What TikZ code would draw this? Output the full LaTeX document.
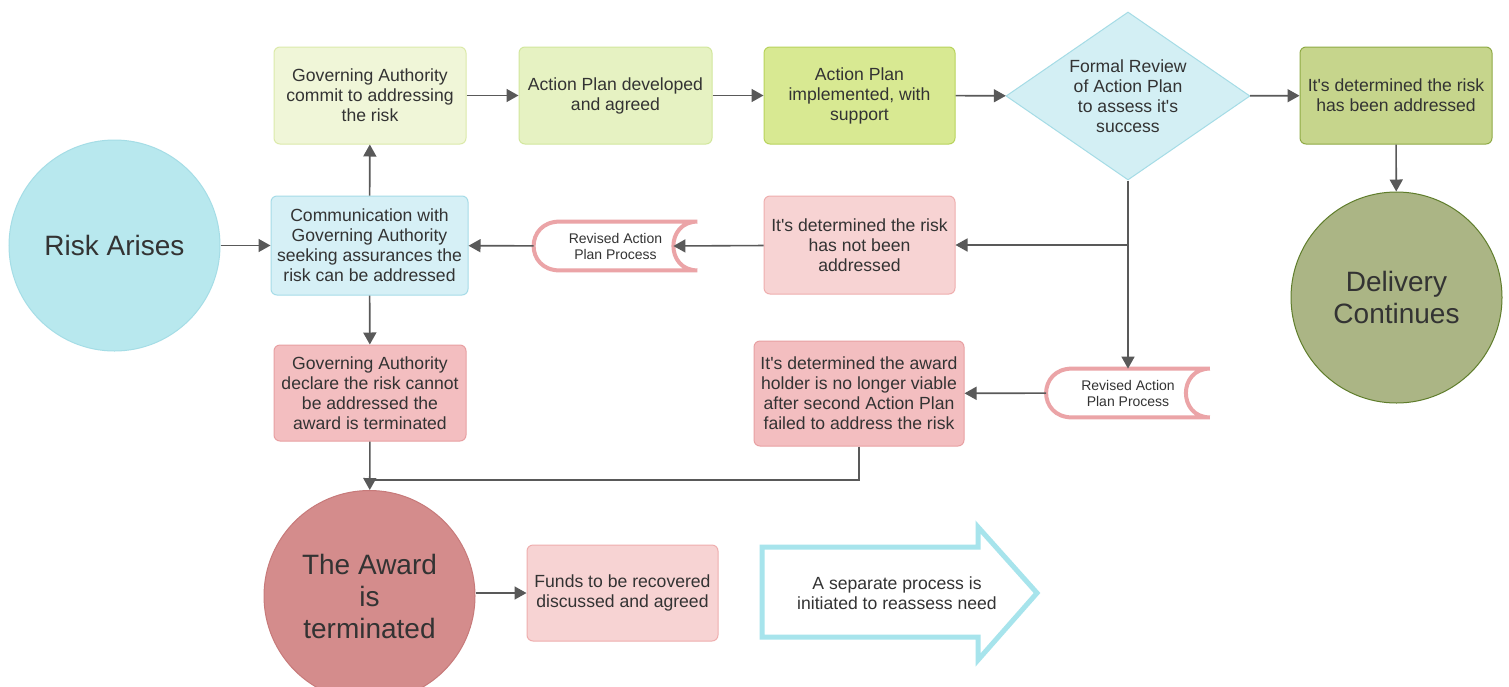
\documentclass[tikz,border=0pt]{standalone}
\usepackage{fontspec}
\setmainfont{Liberation Sans}[Ligatures=TeXOff]
\usetikzlibrary{shapes.geometric, arrows.meta}

\definecolor{txt}{HTML}{333333}
\definecolor{conn}{HTML}{595959}
\definecolor{riskfill}{HTML}{B8E8EE}
\definecolor{riskline}{HTML}{A5DDE6}
\definecolor{commitfill}{HTML}{F0F6D8}
\definecolor{commitline}{HTML}{DCEAAA}
\definecolor{devfill}{HTML}{E6F2C2}
\definecolor{devline}{HTML}{D2E79D}
\definecolor{implfill}{HTML}{D8E992}
\definecolor{implline}{HTML}{B8D35C}
\definecolor{reviewfill}{HTML}{D3EFF4}
\definecolor{reviewline}{HTML}{A5DCE6}
\definecolor{addrfill}{HTML}{C6D58C}
\definecolor{addrline}{HTML}{8FAA45}
\definecolor{delivfill}{HTML}{ABB585}
\definecolor{delivline}{HTML}{5F7D2B}
\definecolor{commfill}{HTML}{D6F0F6}
\definecolor{commline}{HTML}{A6DCE8}
\definecolor{lightred}{HTML}{F7D3D3}
\definecolor{lightredline}{HTML}{EFAEAE}
\definecolor{midred}{HTML}{F3BEC0}
\definecolor{midredline}{HTML}{E8A0A2}
\definecolor{termfill}{HTML}{D48C8C}
\definecolor{termline}{HTML}{C77A7A}
\definecolor{revcolor}{HTML}{EBA4A7}
\definecolor{arrowline}{HTML}{A7E4EC}

% outline of the "Revised Action Plan Process" shape
\newcommand{\revisedoutline}[1]{%
  \draw[draw=revcolor, line width=2pt] ([xshift=13pt]#1.north west) -- (#1.north east)
    .. controls ([xshift=-16pt]#1.north east) and ([xshift=-16pt]#1.south east) .. (#1.south east)
    -- ([xshift=13pt]#1.south west)
    .. controls ([xshift=-4.33pt]#1.south west) and ([xshift=-4.33pt]#1.north west) .. cycle;}

\begin{document}
\begin{tikzpicture}[x=0.5pt, y=-0.5pt,
    box/.style={rectangle, rounded corners=3pt, draw, line width=0.5pt, align=center, text=txt,
        minimum width=96pt, minimum height=48.5pt, inner sep=1pt, font=\fontsize{8.8}{10}\selectfont},
    bigcircle/.style={circle, draw, line width=0.5pt, align=center, text=txt,
        minimum size=105.5pt, inner sep=0pt, font=\fontsize{14}{16}\selectfont},
    revised/.style={rectangle, minimum width=81.5pt, minimum height=24pt, inner sep=0pt, align=center,
        text=txt, font=\fontsize{7}{8}\selectfont},
    flow/.style={draw=conn, line width=0.8pt, -{Triangle[length=6pt, width=6.5pt]}},
    line/.style={draw=conn, line width=0.8pt}]
    \fill[white] (0,0) rectangle (1509,686);
    \useasboundingbox (0,0) rectangle (1509,686);

    % Start and end points
    \node[bigcircle, fill=riskfill, draw=riskline] (risk) at (114.5,245.5) {Risk Arises};
    \node[bigcircle, fill=delivfill, draw=delivline] (delivery) at (1396.5,297.5) {Delivery\\Continues};
    \node[bigcircle, fill=termfill, draw=termline] (terminated) at (369.5,596) {The Award\\is\\terminated};

    % Top row
    \node[box, fill=commitfill, draw=commitline] (commit) at (370,95.5) {Governing Authority\\commit to addressing\\the risk};
    \node[box, fill=devfill, draw=devline, minimum width=96.5pt] (develop) at (615.5,95.5) {Action Plan developed\\and agreed};
    \node[box, fill=implfill, draw=implline, minimum width=95.5pt] (implement) at (859.5,95.5) {Action Plan\\implemented, with\\support};
    \node[diamond, aspect=1.45, draw=reviewline, fill=reviewfill, line width=0.5pt, minimum width=122pt, minimum height=84pt,
        inner sep=0pt, align=center, text=txt, font=\fontsize{8.8}{10}\selectfont] (review) at (1128,96) {Formal Review\\of Action Plan\\to assess it's\\success};
    \node[box, fill=addrfill, draw=addrline] (addressed) at (1396,95.5) {It's determined the risk\\has been addressed};

    % Middle rows
    \node[box, fill=commfill, draw=commline, minimum width=98.5pt, minimum height=49.5pt] (comm) at (369.5,245.5) {Communication with\\Governing Authority\\seeking assurances the\\risk can be addressed};
    \node[revised] (revone) at (615.5,246) {Revised Action\\Plan Process};
    \node[box, fill=lightred, draw=lightredline, minimum width=95.5pt, minimum height=49pt] (notaddr) at (859.5,245) {It's determined the risk\\has not been\\addressed};
    \node[box, fill=midred, draw=midredline, minimum height=48pt] (declare) at (370,393) {Governing Authority\\declare the risk cannot\\be addressed the\\award is terminated};
    \node[box, fill=midred, draw=midredline, minimum width=105pt, minimum height=52.5pt] (notviable) at (859,393.5) {It's determined the award\\holder is no longer viable\\after second Action Plan\\failed to address the risk};
    \node[revised] (revtwo) at (1128,393) {Revised Action\\Plan Process};
    \revisedoutline{revone}
    \revisedoutline{revtwo}

    % Bottom row
    \node[box, fill=lightred, draw=lightredline, minimum width=95.5pt, minimum height=48pt] (funds) at (622.5,593) {Funds to be recovered\\discussed and agreed};
    \draw[draw=arrowline, line width=2.5pt, line join=miter] (762,547) -- (978,547) -- (978,527) -- (1037,593)
        -- (978,660) -- (978,637) -- (762,637) -- cycle;
    \node[align=center, text=txt, font=\fontsize{8.8}{10}\selectfont] (reassess) at (897,593) {A separate process is\\initiated to reassess need};

    % Connectors
    \coordinate (join) at (370,480);
    \draw[flow] (risk) -- (comm);
    \draw[flow] (comm) -- (commit);
    \draw[flow] (commit) -- (develop);
    \draw[flow] (develop) -- (implement);
    \draw[flow] (implement) -- (review);
    \draw[flow] (review) -- (addressed);
    \draw[flow] (addressed) -- (delivery);
    \draw[flow] (review) -- (revtwo);
    \draw[flow] (review.south |- notaddr.east) -- (notaddr.east);
    \draw[flow] (notaddr) -- ([xshift=-12pt]revone.east);
    \draw[flow] (revone) -- (comm);
    \draw[flow] (comm) -- (declare);
    \draw[flow] (revtwo) -- (notviable);
    \draw[flow] (declare) -- (terminated);
    \draw[line] (notviable.south) |- (join);
    \draw[flow] (terminated.east |- funds.west) -- (funds.west);
\end{tikzpicture}
\end{document}
